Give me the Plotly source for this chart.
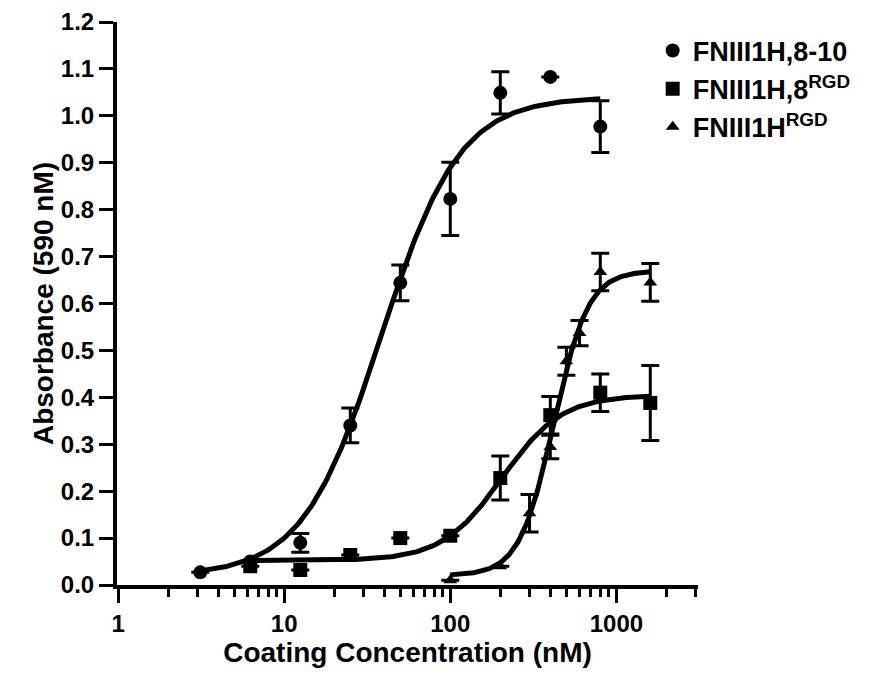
import numpy as np
import plotly.graph_objects as go

# ---- data ----
conc_a = [3.125, 6.25, 12.5, 25, 50, 100, 200, 400, 800]
abs_a = [0.027, 0.05, 0.09, 0.34, 0.644, 0.823, 1.049, 1.083, 0.977]
err_a = [None, None, 0.02, 0.037, 0.038, 0.078, 0.045, None, 0.055]

conc_b = [6.25, 12.5, 25, 50, 100, 200, 400, 800, 1600]
abs_b = [0.04, 0.032, 0.064, 0.10, 0.105, 0.228, 0.362, 0.41, 0.388]
err_b = [None, None, None, None, None, 0.047, 0.04, 0.04, 0.08]

conc_c = [100, 200, 300, 400, 500, 600, 800, 1600]
abs_c = [0.01, 0.04, 0.153, 0.294, 0.477, 0.537, 0.667, 0.645]
err_c = [None, None, 0.04, 0.025, 0.03, 0.027, 0.04, 0.04]

# 4-parameter logistic fit parameters: bottom, top, EC50, hill, x-start, x-end
fit_a = [0.02, 1.04, 38.3, 1.835, 3.125, 800]
fit_b = [0.052, 0.405, 205, 2.42, 6.25, 1600]
fit_c = [0.02, 0.67, 420, 4.2, 100, 1600]

names = ["FNIII1H,8-10", "FNIII1H,8<sup>RGD</sup>", "FNIII1H<sup>RGD</sup>"]
symbols = ["circle", "square", "triangle-up"]
marker_sizes = [14, 14, 12]

y_ticks = [round(0.1 * i, 1) for i in range(13)]
x_major = [1, 10, 100, 1000]
x_minor = [m * 10 ** d for d in range(0, 4) for m in range(2, 10) if m * 10 ** d <= 3000]

FONT = "Liberation Sans, Arial, Helvetica, sans-serif"

def four_pl(x, p):
    b, t, ec, h = p[:4]
    return b + (t - b) / (1 + (ec / x) ** h)

fig = go.Figure()

series = [(conc_a, abs_a, err_a, fit_a), (conc_b, abs_b, err_b, fit_b), (conc_c, abs_c, err_c, fit_c)]

for i, (cx, cy, ce, fp) in enumerate(series):
    xs = np.logspace(np.log10(fp[4]), np.log10(fp[5]), 200)
    fig.add_trace(go.Scatter(
        x=xs, y=four_pl(xs, fp), mode="lines",
        line=dict(color="black", width=5), showlegend=False, hoverinfo="skip",
        legendgroup=f"g{i}",
    ))

for i, (cx, cy, ce, fp) in enumerate(series):
    fig.add_trace(go.Scatter(
        x=cx, y=cy, mode="markers", name=names[i],
        marker=dict(symbol=symbols[i], size=marker_sizes[i], color="black"),
        error_y=dict(type="data", array=ce, visible=True, color="black",
                     thickness=3, width=9),
        legendgroup=f"g{i}",
    ))

fig.update_layout(
    template="none",
    width=896, height=675,
    margin=dict(l=109, r=206, t=14, b=98),
    paper_bgcolor="white", plot_bgcolor="white",
    font=dict(family=FONT, color="black", size=24, weight="bold"),
    showlegend=True,
    legend=dict(
        x=0.922, y=0.992, xanchor="left", yanchor="top",
        font=dict(family=FONT, size=27, color="black", weight="bold"),
        bgcolor="rgba(0,0,0,0)", tracegroupgap=0,
    ),
    xaxis=dict(
        type="log", range=[np.log10(0.985), np.log10(3100)],
        tickvals=x_major, ticktext=[str(v) for v in x_major],
        ticks="outside", ticklen=14, tickwidth=3, tickcolor="black",
        showline=True, linewidth=4, linecolor="black",
        showgrid=False, zeroline=False, automargin=False,
        tickfont=dict(family=FONT, size=24, color="black", weight="bold"),
        minor=dict(tickvals=x_minor, ticks="outside", ticklen=8, tickwidth=3,
                   tickcolor="black", showgrid=False),
        title=dict(text="Coating Concentration (nM)",
                   font=dict(family=FONT, size=28, color="black", weight="bold"),
                   standoff=6),
    ),
    yaxis=dict(
        range=[0, 1.2],
        tickvals=y_ticks, ticktext=[f"{v:.1f}" for v in y_ticks],
        ticks="outside", ticklen=14, tickwidth=3, tickcolor="black",
        showline=True, linewidth=4, linecolor="black",
        showgrid=False, zeroline=False, automargin=False,
        tickfont=dict(family=FONT, size=24, color="black", weight="bold"),
        title=dict(text="Absorbance (590 nM)",
                   font=dict(family=FONT, size=28, color="black", weight="bold"),
                   standoff=0),
    ),
)

fig.write_html("out.html")
